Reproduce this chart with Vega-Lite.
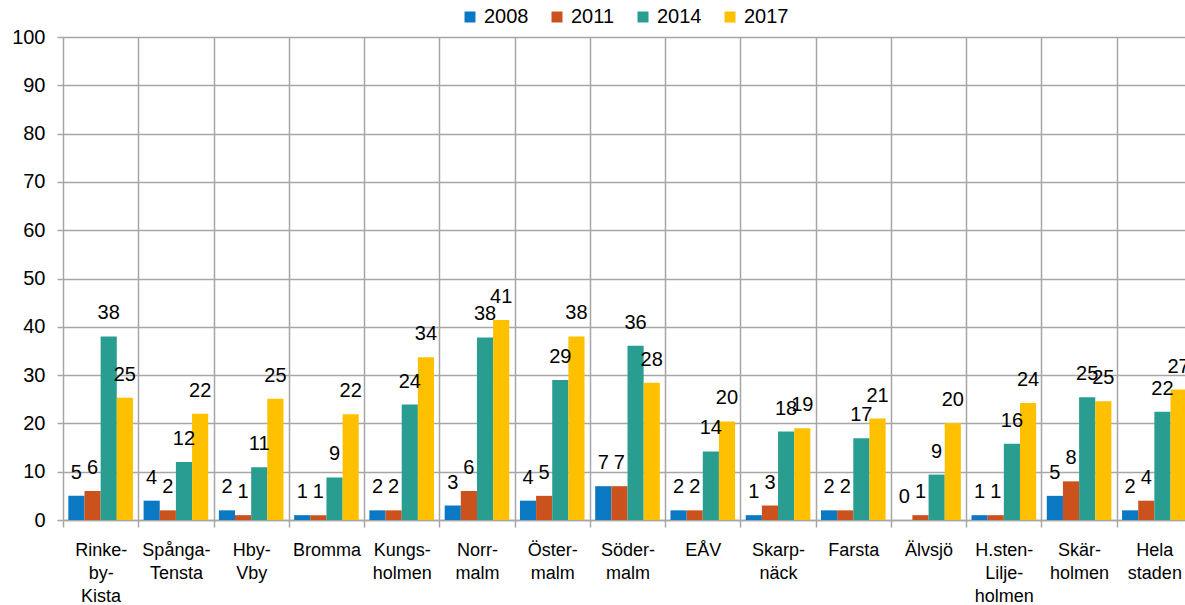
{
  "$schema": "https://vega.github.io/schema/vega-lite/v6.json",
  "width": 1122,
  "height": 483,
  "autosize": {"type": "none"},
  "padding": {"left": 63, "top": 37, "right": 0, "bottom": 85},
  "background": "white",
  "config": {"view": {"stroke": null}, "font": "Liberation Sans"},
  "data": {
    "values": [
      {"district": "Rinke-|by-|Kista", "year": "2008", "value": 5},
      {"district": "Rinke-|by-|Kista", "year": "2011", "value": 6},
      {"district": "Rinke-|by-|Kista", "year": "2014", "value": 38},
      {"district": "Rinke-|by-|Kista", "year": "2017", "value": 25.3},
      {"district": "Spånga-|Tensta", "year": "2008", "value": 4},
      {"district": "Spånga-|Tensta", "year": "2011", "value": 2},
      {"district": "Spånga-|Tensta", "year": "2014", "value": 12},
      {"district": "Spånga-|Tensta", "year": "2017", "value": 22},
      {"district": "Hby-|Vby", "year": "2008", "value": 2},
      {"district": "Hby-|Vby", "year": "2011", "value": 1},
      {"district": "Hby-|Vby", "year": "2014", "value": 10.9},
      {"district": "Hby-|Vby", "year": "2017", "value": 25.1},
      {"district": "Bromma", "year": "2008", "value": 1},
      {"district": "Bromma", "year": "2011", "value": 1},
      {"district": "Bromma", "year": "2014", "value": 8.8},
      {"district": "Bromma", "year": "2017", "value": 21.9},
      {"district": "Kungs-|holmen", "year": "2008", "value": 2},
      {"district": "Kungs-|holmen", "year": "2011", "value": 2},
      {"district": "Kungs-|holmen", "year": "2014", "value": 23.9},
      {"district": "Kungs-|holmen", "year": "2017", "value": 33.7},
      {"district": "Norr-|malm", "year": "2008", "value": 3},
      {"district": "Norr-|malm", "year": "2011", "value": 6},
      {"district": "Norr-|malm", "year": "2014", "value": 37.8},
      {"district": "Norr-|malm", "year": "2017", "value": 41.4},
      {"district": "Öster-|malm", "year": "2008", "value": 4},
      {"district": "Öster-|malm", "year": "2011", "value": 5},
      {"district": "Öster-|malm", "year": "2014", "value": 29},
      {"district": "Öster-|malm", "year": "2017", "value": 38},
      {"district": "Söder-|malm", "year": "2008", "value": 7},
      {"district": "Söder-|malm", "year": "2011", "value": 7},
      {"district": "Söder-|malm", "year": "2014", "value": 36.1},
      {"district": "Söder-|malm", "year": "2017", "value": 28.4},
      {"district": "EÅV", "year": "2008", "value": 2},
      {"district": "EÅV", "year": "2011", "value": 2},
      {"district": "EÅV", "year": "2014", "value": 14.2},
      {"district": "EÅV", "year": "2017", "value": 20.4},
      {"district": "Skarp-|näck", "year": "2008", "value": 1},
      {"district": "Skarp-|näck", "year": "2011", "value": 3},
      {"district": "Skarp-|näck", "year": "2014", "value": 18.3},
      {"district": "Skarp-|näck", "year": "2017", "value": 19},
      {"district": "Farsta", "year": "2008", "value": 2},
      {"district": "Farsta", "year": "2011", "value": 2},
      {"district": "Farsta", "year": "2014", "value": 16.9},
      {"district": "Farsta", "year": "2017", "value": 21},
      {"district": "Älvsjö", "year": "2008", "value": 0},
      {"district": "Älvsjö", "year": "2011", "value": 1},
      {"district": "Älvsjö", "year": "2014", "value": 9.4},
      {"district": "Älvsjö", "year": "2017", "value": 20.1},
      {"district": "H.sten-|Lilje-|holmen", "year": "2008", "value": 1},
      {"district": "H.sten-|Lilje-|holmen", "year": "2011", "value": 1},
      {"district": "H.sten-|Lilje-|holmen", "year": "2014", "value": 15.8},
      {"district": "H.sten-|Lilje-|holmen", "year": "2017", "value": 24.2},
      {"district": "Skär-|holmen", "year": "2008", "value": 5},
      {"district": "Skär-|holmen", "year": "2011", "value": 8},
      {"district": "Skär-|holmen", "year": "2014", "value": 25.4},
      {"district": "Skär-|holmen", "year": "2017", "value": 24.6},
      {"district": "Hela|staden", "year": "2008", "value": 2},
      {"district": "Hela|staden", "year": "2011", "value": 4},
      {"district": "Hela|staden", "year": "2014", "value": 22.4},
      {"district": "Hela|staden", "year": "2017", "value": 27}
    ]
  },
  "encoding": {
    "x": {
      "field": "district",
      "type": "nominal",
      "sort": null,
      "scale": {"range": [0, 1129], "paddingInner": 0, "paddingOuter": 0},
      "axis": {
        "title": null,
        "labelAngle": 0,
        "labelExpr": "split(datum.label, '|')",
        "labelFontSize": 18,
        "labelLineHeight": 23,
        "labelBaseline": "top",
        "labelPadding": 14,
        "labelColor": "#000000",
        "tickBand": "extent",
        "grid": true,
        "gridColor": "#a6a6a6",
        "gridWidth": 1.5,
        "ticks": true,
        "tickSize": 7,
        "tickColor": "#a6a6a6",
        "tickWidth": 1.5,
        "domainColor": "#a6a6a6",
        "domainWidth": 1.5
      }
    },
    "xOffset": {
      "field": "year",
      "type": "nominal",
      "sort": null,
      "scale": {"paddingInner": 0, "paddingOuter": 0.33}
    },
    "y": {
      "field": "value",
      "type": "quantitative",
      "scale": {"domain": [0, 100], "nice": false},
      "axis": {
        "title": null,
        "values": [0, 10, 20, 30, 40, 50, 60, 70, 80, 90, 100],
        "labelFontSize": 20,
        "labelColor": "#000000",
        "labelPadding": 12,
        "grid": true,
        "gridColor": "#a6a6a6",
        "gridWidth": 1.5,
        "ticks": true,
        "tickSize": 6,
        "tickColor": "#a6a6a6",
        "tickWidth": 1.5,
        "domain": false
      }
    }
  },
  "layer": [
    {
      "mark": {"type": "bar"},
      "encoding": {
        "color": {
          "field": "year",
          "type": "nominal",
          "scale": {
            "domain": ["2008", "2011", "2014", "2017"],
            "range": ["#0A78C2", "#CB521C", "#2A9D91", "#FFC000"]
          },
          "legend": {
            "title": null,
            "orient": "none",
            "legendX": 397,
            "legendY": -30,
            "direction": "horizontal",
            "symbolType": "square",
            "symbolSize": 121,
            "symbolStrokeWidth": 0,
            "labelFontSize": 20,
            "labelColor": "#000000",
            "labelOffset": 4,
            "columnPadding": 18
          }
        }
      }
    },
    {
      "mark": {"type": "text", "dy": -23, "fontSize": 20, "baseline": "middle", "color": "#000000"},
      "encoding": {
        "text": {"field": "value", "type": "quantitative", "format": ".0f"}
      }
    }
  ]
}
